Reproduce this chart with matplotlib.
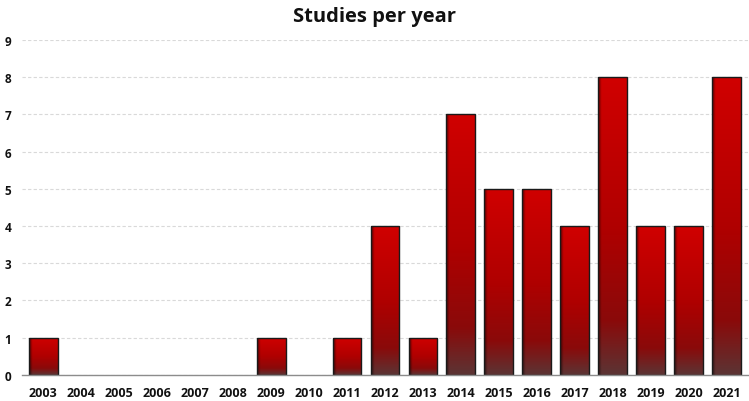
import numpy as np
import matplotlib.pyplot as plt
from matplotlib.colors import LinearSegmentedColormap

years = [str(y) for y in range(2003, 2022)]
studies = [1, 0, 0, 0, 0, 0, 1, 0, 1, 4, 1, 7, 5, 5, 4, 8, 4, 4, 8]

plt.rcParams['font.family'] = ['Open Sans', 'DejaVu Sans']

fig = plt.figure(figsize=(7.49, 4.02), dpi=100)
ax = fig.add_axes([0.030, 0.065, 0.968, 0.833])

x = np.arange(len(years))
width = 0.76
edge = ['#1a1a1a' if v > 0 else 'none' for v in studies]
bars = ax.bar(x, studies, width=width, color='none', edgecolor=edge,
              linewidth=1.0, zorder=3)

# vertical red gradient, darker toward the bottom, with a shaded left edge
cmap = LinearSegmentedColormap.from_list(
    'redgrad', [(0.0, '#d00000'), (0.5, '#b00000'), (0.82, '#8a0a0a'), (1.0, '#5c3434')])
ny, nx = 200, 60
vert = np.linspace(0, 1, ny)[:, None]
rgb = cmap(np.repeat(vert, nx, axis=1))[..., :3]
xs = np.linspace(0, 1, nx)
shade = np.clip(0.45 + xs / 0.12 * 0.55, 0, 1)
rgb = rgb * shade[None, :, None]

for b in bars:
    h = b.get_height()
    if h <= 0:
        continue
    x0 = b.get_x()
    im = ax.imshow(rgb, extent=(x0, x0 + b.get_width(), 0, h), origin='upper',
                   aspect='auto', zorder=2, interpolation='bilinear')
    im.set_clip_path(b)

ax.set_xlim(-0.55, len(years) - 0.45)
ax.set_ylim(0, 9)
ax.set_yticks(range(0, 10))
ax.set_xticks(x)
ax.set_xticklabels(years, fontsize=9, fontweight='bold', color='#111111')
ax.tick_params(axis='y', labelsize=8.5, length=0, pad=8, labelcolor='#111111')
for t in ax.get_yticklabels():
    t.set_fontweight('bold')
ax.tick_params(axis='x', length=0, pad=8)

ax.yaxis.grid(True, linestyle=(0, (3, 2)), color='#d9d9d9', linewidth=0.8, zorder=0)
for s in ('top', 'right', 'left'):
    ax.spines[s].set_visible(False)
ax.spines['bottom'].set_color('#8c8c8c')
ax.spines['bottom'].set_linewidth(1.0)
ax.spines['bottom'].set_zorder(4)

fig.suptitle('Studies per year', fontsize=14.5, fontweight='bold', y=0.982, color='#111111')

fig.savefig('out.png', dpi=100)
